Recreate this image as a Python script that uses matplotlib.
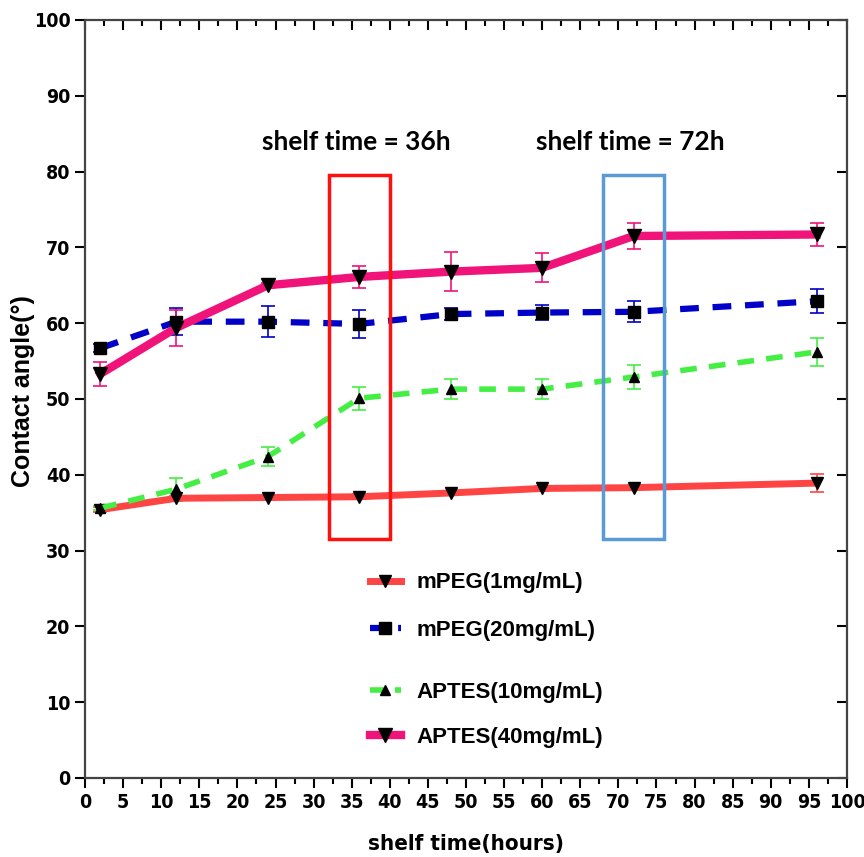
import matplotlib
matplotlib.use('Agg')
import matplotlib.pyplot as plt
from matplotlib.patches import Rectangle
from matplotlib.lines import Line2D
from matplotlib.ticker import MultipleLocator

# shelf time (hours) and contact angle readings
hours = [2, 12, 24, 36, 48, 60, 72, 96]
mpeg1 = [35.4, 36.9, 37.0, 37.1, 37.6, 38.2, 38.3, 38.9]
mpeg1_err = [0.3, 0.3, 0.3, 0.3, 0.3, 0.3, 0.3, 1.2]
mpeg20 = [56.7, 60.2, 60.2, 59.9, 61.2, 61.4, 61.5, 62.9]
mpeg20_err = [0.5, 1.8, 2.0, 1.8, 0.8, 1.0, 1.4, 1.6]
aptes10 = [35.6, 38.1, 42.4, 50.1, 51.3, 51.3, 52.9, 56.2]
aptes10_err = [0.3, 1.5, 1.2, 1.5, 1.3, 1.3, 1.6, 1.8]
aptes40 = [53.3, 59.4, 65.0, 66.1, 66.8, 67.3, 71.5, 71.7]
aptes40_err = [1.6, 2.4, 0.3, 1.5, 2.6, 1.9, 1.7, 1.5]

labels = ['mPEG(1mg/mL)', 'mPEG(20mg/mL)', 'APTES(10mg/mL)', 'APTES(40mg/mL)']
x_ticks = list(range(0, 101, 5))
y_ticks = list(range(0, 101, 10))

# highlighted windows: (x0, x1, y0, y1, colour, caption)
windows = [(32, 40, 31.5, 79.5, '#ff1010', 'shelf time = 36h'),
           (68, 76, 31.5, 79.5, '#5b9bd5', 'shelf time = 72h')]

narrow = ['DejaVu Sans']

fig = plt.figure(figsize=(8.64, 8.57), dpi=100)
ax = fig.add_axes([0.0984, 0.0922, 0.8819, 0.8845])

red = '#ff4444'
blue = '#0000c8'
green = '#44ee44'
pink = '#f0137a'

ax.errorbar(hours, mpeg1, yerr=mpeg1_err, color=red, lw=5, ls='-',
            marker='v', ms=9, mfc='black', mec='black',
            ecolor=red, elinewidth=1.2, capsize=5, capthick=1.2, zorder=3)
ax.errorbar(hours, mpeg20, yerr=mpeg20_err, color=blue, lw=4.5, ls=(0, (3, 2.2)),
            marker='s', ms=9, mfc='black', mec='black',
            ecolor=blue, elinewidth=1.2, capsize=5, capthick=1.2, zorder=3)
ax.errorbar(hours, aptes10, yerr=aptes10_err, color=green, lw=4, ls=(0, (3, 2.2)),
            marker='^', ms=7, mfc='black', mec='black',
            ecolor=green, elinewidth=1.2, capsize=5, capthick=1.2, zorder=3)
ax.errorbar(hours, aptes40, yerr=aptes40_err, color=pink, lw=6, ls='-',
            marker='v', ms=10, mfc='black', mec='black',
            ecolor=pink, elinewidth=1.2, capsize=5, capthick=1.2, zorder=3)

for x0, x1, y0, y1, c, txt in windows:
    ax.add_patch(Rectangle((x0, y0), x1 - x0, y1 - y0, fill=False,
                           edgecolor=c, lw=2.5, zorder=4))
    ax.text((x0 + x1) / 2 - 0.4, 83.9, txt, ha='center', va='center',
            fontsize=19, fontweight='bold', family=['Lato', 'DejaVu Sans'])

ax.set_xlim(0, 100)
ax.set_ylim(0, 100)
ax.set_xticks(x_ticks)
ax.set_yticks(y_ticks)
ax.xaxis.set_minor_locator(MultipleLocator(2.5))
ax.tick_params(axis='x', which='major', length=7, width=1.5, direction='out',
               top=True, labeltop=False)
ax.tick_params(axis='x', which='minor', length=4, width=1.5, direction='out', top=True)
ax.tick_params(axis='y', which='major', length=7, width=1.5, direction='out',
               right=True)
# ticks on the top and right frame point inwards
for t in ax.xaxis.get_major_ticks() + ax.xaxis.get_minor_ticks():
    t.tick2line.set_marker(3)
for t in ax.yaxis.get_major_ticks():
    t.tick2line.set_marker(0)
for sp in ax.spines.values():
    sp.set_linewidth(1.6)
    sp.set_color('#444444')
for lab in ax.get_xticklabels() + ax.get_yticklabels():
    lab.set_family(narrow)
    lab.set_fontstretch('condensed')
    lab.set_fontweight('bold')
    lab.set_fontsize(14)

ax.set_xlabel('shelf time(hours)', fontsize=16, fontweight='bold', family=narrow,
              fontstretch='condensed', labelpad=16)
ax.set_ylabel('Contact angle(°)', fontsize=18, fontweight='bold',
              family=['Liberation Sans', 'DejaVu Sans'])
ax.yaxis.set_label_coords(-0.066, 0.51)


def handle(c, ls, lw, m, ms):
    return Line2D([], [], color=c, ls=ls, lw=lw, marker=m, ms=ms,
                  mfc='black', mec='black')


leg_font = {'family': ['Liberation Sans', 'DejaVu Sans'], 'weight': 'bold', 'size': 16}
leg1 = ax.legend([handle(red, '-', 5, 'v', 9), handle(blue, (0, (3, 1.5)), 4.5, 's', 9)],
                 labels[:2], loc='upper left', bbox_to_anchor=(0.362, 0.283),
                 frameon=False, prop=leg_font, handlelength=1.4, handletextpad=0.7,
                 labelspacing=1.2, borderaxespad=0)
ax.add_artist(leg1)
ax.legend([handle(green, (0, (3, 1.5)), 4, '^', 7), handle(pink, '-', 6, 'v', 10)],
          labels[2:], loc='upper left', bbox_to_anchor=(0.362, 0.138),
          frameon=False, prop=leg_font, handlelength=1.4, handletextpad=0.7,
          labelspacing=1.05, borderaxespad=0)

fig.savefig('out.png', dpi=100)
